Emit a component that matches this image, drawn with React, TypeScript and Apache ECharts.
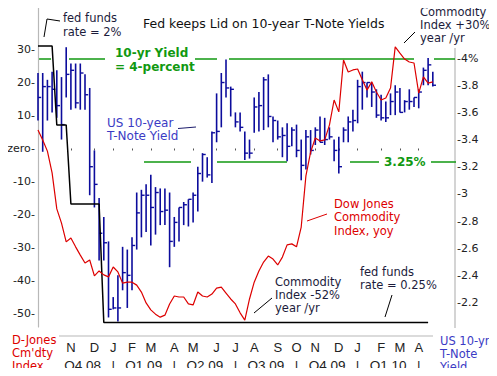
import React, { useEffect, useRef } from "react";
import * as echarts from "echarts";

// Weekly 10-yr T-Note yield bars (high / low / close), %
const yieldHigh = [3.89,3.89,3.84,3.90,3.91,3.86,4.08,3.96,3.96,3.96,3.88,3.78,3.32,2.97,2.83,2.65,2.24,2.40,2.61,2.59,2.68,3.01,3.03,3.07,3.14,3.05,3.04,3.04,3.01,2.83,2.90,2.94,2.96,3.01,3.20,3.30,3.27,3.46,3.74,3.89,3.99,3.79,3.60,3.60,3.46,3.40,3.71,3.75,3.86,3.88,3.57,3.54,3.49,3.52,3.49,3.51,3.40,3.47,3.47,3.49,3.57,3.56,3.49,3.40,3.42,3.49,3.57,3.62,3.84,3.90,3.82,3.82,3.77,3.73,3.68,3.74,3.80,3.78,3.69,3.77,3.71,3.77,3.93,4.00,3.90];
const yieldLow = [3.54,3.31,3.54,3.60,3.56,3.40,3.71,3.62,3.63,3.62,3.62,2.99,2.90,2.51,2.51,2.09,2.15,2.06,2.29,2.16,2.29,2.59,2.68,2.72,2.62,2.70,2.77,2.77,2.46,2.61,2.65,2.77,2.76,2.79,2.87,3.09,3.12,3.08,3.38,3.49,3.71,3.57,3.49,3.46,3.25,3.26,3.45,3.46,3.47,3.49,3.38,3.40,3.27,3.24,3.35,3.27,3.10,3.18,3.29,3.36,3.38,3.36,3.40,3.24,3.15,3.38,3.38,3.46,3.52,3.62,3.71,3.64,3.56,3.54,3.53,3.58,3.58,3.60,3.60,3.62,3.64,3.63,3.80,3.80,3.79];
const yieldClose = [3.71,3.79,3.79,3.77,3.65,3.51,3.88,3.91,3.67,3.89,3.73,3.20,3.07,2.71,2.64,2.15,2.16,2.16,2.42,2.40,2.62,2.86,2.99,2.99,2.90,3.01,2.87,2.88,2.65,2.79,2.90,2.92,2.96,2.99,3.15,3.29,3.14,3.45,3.46,3.82,3.78,3.77,3.53,3.49,3.30,3.30,3.64,3.65,3.84,3.57,3.54,3.42,3.43,3.35,3.47,3.32,3.21,3.42,3.32,3.47,3.38,3.40,3.42,3.32,3.20,3.47,3.53,3.54,3.79,3.82,3.82,3.75,3.58,3.56,3.56,3.68,3.75,3.60,3.68,3.68,3.71,3.75,3.91,3.95,3.80];

// Dow Jones Commodity Index, year-on-year %
const commodityYoY = [
  5.6,2.6,-0.8,-7.4,-18.3,-22.6,-28.3,-27.1,-29.8,-32.3,
  -34.7,-33.8,-38.6,-37.1,-38.3,-38.9,-35.9,-37.4,-40.8,-40.5,
  -40.5,-41.4,-43.5,-46.8,-48.9,-50.2,-51.1,-50.5,-47.1,-44.7,
  -45.0,-45.0,-47.1,-47.4,-43.5,-44.7,-45.0,-44.1,-42.3,-42.0,
  -43.8,-45.6,-47.1,-49.8,-52.0,-45.6,-40.5,-37.1,-34.4,-32.6,
  -33.5,-35.3,-32.9,-29.2,-28.9,-29.8,-23.8,-8.3,-1.1,3.2,
  2.3,2.6,7.1,14.7,11.1,26.8,23.2,23.8,24.1,20.8,
  17.7,20.2,17.1,14.7,15.3,18.3,30.8,28.9,27.1,26.2,
  25.9,16.8,21.7,19.8,20.2
];

// Fed funds target rate, % (weekly)
const fedFunds = [
  2,2,2,2,1.5,1.5,1.5,1,1,1,1,1,1,1,
  0.25,0.25,0.25,0.25,0.25,0.25,0.25,0.25,0.25,0.25,0.25,0.25,0.25,0.25,0.25,0.25,
  0.25,0.25,0.25,0.25,0.25,0.25,0.25,0.25,0.25,0.25,0.25,0.25,0.25,0.25,0.25,0.25,
  0.25,0.25,0.25,0.25,0.25,0.25,0.25,0.25,0.25,0.25,0.25,0.25,0.25,0.25,0.25,0.25,
  0.25,0.25,0.25,0.25,0.25,0.25,0.25,0.25,0.25,0.25,0.25,0.25,0.25,0.25,0.25,0.25,
  0.25,0.25,0.25,0.25,0.25,0.25
];

// Month letters and the week on which each month starts
const monthLetters = ["N","D","J","F","M","A","M","J","J","A","S","O","N","D","J","F","M","A"];
const monthWeeks = [7,12,16,20,24,29,33,38,42,46,51,55,59,64,68,73,77,81];

// Quarters and their bounding weeks
const quarterLabels = ["Q4 08","Q1 09","Q2 09","Q3 09","Q4 09","Q1 10"];
const quarterBounds = [3,16,29,42,55,68,81];

const leftTicks = [30,20,10,0,-10,-20,-30,-40,-50];
const rightTicks = [4.0,3.8,3.6,3.4,3.2,3.0,2.8,2.6,2.4,2.2];

const BLUE = "#0c0c9c";
const RED = "#dd0000";
const GREEN = "#119911";
const NAVY = "#1c1c3c";
const TXTBLUE = "#3b3bc4";
const GRAY = "#b8b8b8";
const FONT = "DejaVu Sans";

export default function App() {
  const ref = useRef<HTMLDivElement>(null);
  useEffect(() => {
    if (!ref.current) return;
    const chart = echarts.init(ref.current, undefined, { renderer: "svg" });

    const bars = yieldHigh.map((h, i) => [i, h, yieldLow[i], yieldClose[i]]);
    const red = commodityYoY.map((v, i) => [i, v]);
    const fed = fedFunds.map((v, i) => [i, v]);

    const qCenters = quarterLabels.map((_, i) => (quarterBounds[i] + quarterBounds[i + 1]) / 2);
    const qSeps = quarterBounds.slice(1);
    const qValues = [...qCenters, ...qSeps].sort((a, b) => a - b);

    const text = (t: string, x: number, y: number, color: string, opts: any = {}) => ({
      type: "text",
      x,
      y,
      silent: true,
      style: {
        text: t,
        fill: color,
        fontFamily: FONT,
        fontSize: opts.fontSize ?? 11.5,
        fontWeight: opts.fontWeight ?? "normal",
        lineHeight: opts.lineHeight ?? 13,
        verticalAlign: opts.verticalAlign ?? "top",
        align: "left",
      },
    });
    const line = (x1: number, y1: number, x2: number, y2: number, color: string, w = 1) => ({
      type: "line",
      silent: true,
      shape: { x1, y1, x2, y2 },
      style: { stroke: color, lineWidth: w },
    });

    const option: any = {
      animation: false,
      backgroundColor: "#ffffff",
      grid: { left: 36, top: 6, width: 419, height: 321, containLabel: false },
      xAxis: [
        {
          type: "value",
          min: -0.4255,
          max: 88.72,
          position: "bottom",
          offset: 10,
          axisLine: { show: false },
          splitLine: { show: false },
          axisTick: {
            show: true,
            customValues: monthWeeks,
            length: 2,
            lineStyle: { color: "#555", width: 1 },
          },
          axisLabel: {
            customValues: monthWeeks,
            margin: 4,
            fontFamily: "Liberation Sans",
            fontSize: 13,
            color: "#222",
            formatter: (v: number) => {
              const k = monthWeeks.indexOf(Math.round(v));
              return k >= 0 ? monthLetters[k] : "";
            },
          },
        },
        {
          type: "value",
          min: -0.4255,
          max: 88.72,
          position: "bottom",
          offset: 10,
          axisLine: { show: false },
          splitLine: { show: false },
          axisTick: { show: false },
          axisLabel: {
            customValues: qValues,
            margin: 21,
            fontFamily: "Liberation Sans",
            fontSize: 13.5,
            color: "#222",
            formatter: (v: number) => {
              const s = qSeps.findIndex((q) => Math.abs(q - v) < 0.01);
              if (s >= 0) return "|";
              const c = qCenters.findIndex((q) => Math.abs(q - v) < 0.01);
              return c >= 0 ? quarterLabels[c] : "";
            },
          },
        },
      ],
      yAxis: [
        {
          type: "value",
          min: -54.09,
          max: 43.18,
          position: "left",
          axisLine: { show: true, lineStyle: { color: GRAY, width: 1.2 } },
          axisTick: { show: false },
          splitLine: { show: false },
          axisLabel: {
            customValues: leftTicks,
            margin: 1,
            fontFamily: FONT,
            fontSize: 11,
            color: "#222",
            formatter: (v: number) => (v === 0 ? "zero-" : `${v}-`),
          },
        },
        {
          type: "value",
          min: 2.0197,
          max: 4.3835,
          position: "right",
          axisLine: { show: false },
          axisTick: { show: false },
          splitLine: { show: false },
          axisLabel: {
            customValues: rightTicks,
            margin: 2,
            fontFamily: FONT,
            fontSize: 11,
            color: "#222",
            formatter: (v: number) => {
              if (Math.abs(v - 4) < 1e-6) return "-4%";
              if (Math.abs(v - 3) < 1e-6) return "-3";
              return "-" + v.toFixed(1);
            },
          },
        },
        {
          type: "value",
          min: 0.2215,
          max: 2.2532,
          show: false,
          splitLine: { show: false },
        },
      ],
      series: [
        {
          type: "custom",
          name: "US 10-yr T-Note Yield",
          xAxisIndex: 0,
          yAxisIndex: 1,
          encode: { x: 0, y: [1, 2, 3] },
          data: bars,
          z: 2,
          renderItem: (params: any, api: any) => {
            const x = api.value(0);
            const hi = api.coord([x, api.value(1)]);
            const lo = api.coord([x, api.value(2)]);
            const cl = api.coord([x, api.value(3)]);
            return {
              type: "group",
              children: [
                {
                  type: "line",
                  shape: { x1: hi[0], y1: hi[1], x2: lo[0], y2: lo[1] },
                  style: { stroke: BLUE, lineWidth: 1.6 },
                },
                {
                  type: "line",
                  shape: { x1: cl[0], y1: cl[1], x2: cl[0] + 3.2, y2: cl[1] },
                  style: { stroke: BLUE, lineWidth: 1.4 },
                },
              ],
            };
          },
        },
        {
          type: "line",
          name: "fed funds",
          xAxisIndex: 0,
          yAxisIndex: 2,
          data: fed,
          symbol: "none",
          z: 3,
          lineStyle: { color: "#000", width: 1.5 },
        },
        {
          type: "line",
          name: "Dow Jones Commodity Index, yoy",
          xAxisIndex: 0,
          yAxisIndex: 0,
          data: red,
          symbol: "none",
          z: 4,
          lineStyle: { color: RED, width: 1.2 },
        },
      ],
      graphic: [
        // frame
        line(36, 6, 414, 6, GRAY, 1.2),
        line(455, 48, 455, 328, GRAY, 1.2),
        line(59, 336, 433, 336, GRAY, 1.2),
        // 4% line segments
        line(38, 59, 51, 59, GREEN, 1.5),
        line(69, 59, 105, 59, GREEN, 1.5),
        line(195, 59, 217, 59, GREEN, 1.5),
        line(229, 59, 414, 59, GREEN, 1.5),
        line(434, 59, 455, 59, GREEN, 1.5),
        // 3.25% line segments
        line(144, 162, 191, 162, GREEN, 1.5),
        line(217, 162, 287, 162, GREEN, 1.5),
        line(350, 162, 379, 162, GREEN, 1.5),
        line(431, 162, 456, 162, GREEN, 1.5),
        text("3.25%", 384, 162, GREEN, { fontSize: 12, fontWeight: "bold", verticalAlign: "middle" }),
        // title
        text("Fed keeps Lid on 10-year T-Note Yields", 143, 23, "#111", { fontSize: 12.5, verticalAlign: "middle" }),
        // fed funds 2%
        text("fed funds\nrate = 2%", 63, 11, NAVY, { lineHeight: 14 }),
        {
          type: "polyline",
          silent: true,
          shape: { points: [[44, 37], [47, 19], [60, 21]] },
          style: { stroke: "#000", lineWidth: 1, fill: null },
        },
        // 10-yr yield = 4 percent
        text("10-yr Yield\n= 4-percent", 115, 46, GREEN, { fontSize: 12, fontWeight: "bold", lineHeight: 14 }),
        // US 10-year label
        text("US 10-year\nT-Note Yield", 107, 116.5, TXTBLUE, { fontSize: 12 }),
        line(178, 128.5, 196, 127, "#1c1c6c", 1),
        // Commodity +30%
        text("Commodity\nIndex +30%\nyear /yr", 420, 5.5, NAVY),
        line(404, 43, 415, 32, "#000", 1),
        // Dow Jones commodity label
        text("Dow Jones\nCommodity\nIndex, yoy", 334, 197, RED, { lineHeight: 13.5 }),
        line(307, 221, 327, 214, RED, 1),
        // Commodity -52%
        text("Commodity\nIndex -52%\nyear /yr", 275, 275.5, NAVY, { lineHeight: 12.8 }),
        line(254, 313, 272, 298, "#000", 1),
        // fed funds 0.25%
        text("fed funds\nrate = 0.25%", 360, 265.5, NAVY),
        line(385, 317, 392, 295, "#000", 1),
        // axis titles
        text("D-Jones\nCm'dty\nIndex", 12, 333.5, RED),
        text("US 10-yr\nT-Note\nYield", 440, 334.5, TXTBLUE),
      ],
    };

    chart.setOption(option);
    return () => chart.dispose();
  }, []);

  return <div ref={ref} style={{ width: 497, height: 376, margin: -8 }} />;
}
